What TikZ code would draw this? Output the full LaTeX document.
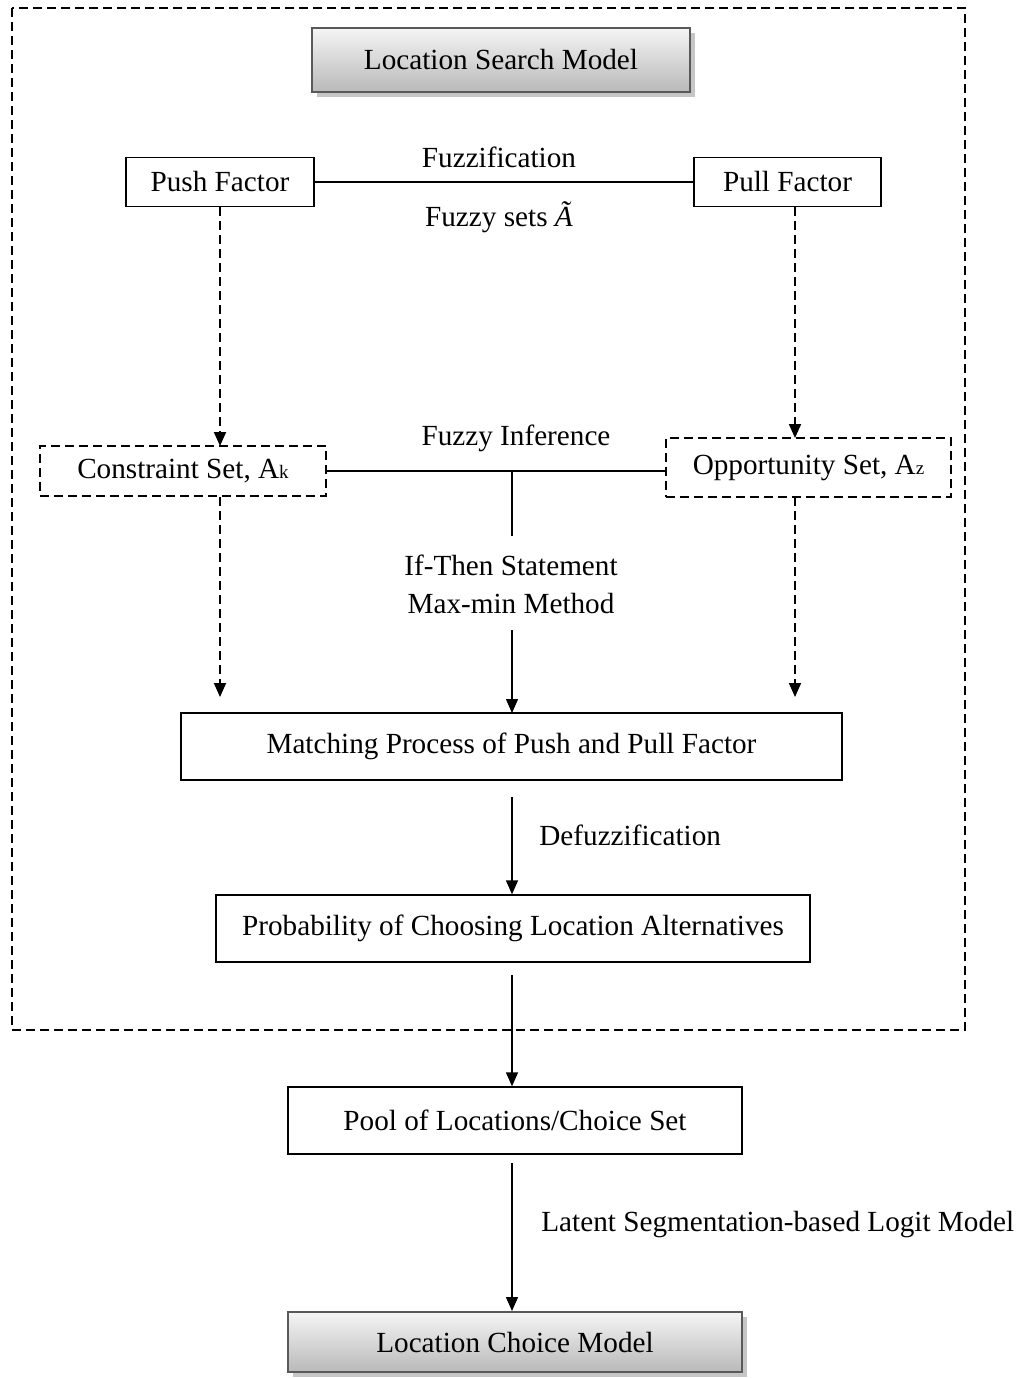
\documentclass[tikz,border=0pt]{standalone}
\usepackage{fontspec}
\setmainfont{Liberation Serif}
\usetikzlibrary{arrows.meta,shadows}
\begin{document}
\begin{tikzpicture}[x=0.5pt,y=-0.5pt,
  every node/.style={font=\fontsize{14.6}{17}\selectfont},
  box/.style={draw,line width=0.7pt,inner sep=0pt},
  dbox/.style={draw,line width=0.9pt,dash pattern=on 4.5pt off 2.5pt,inner sep=0pt},
  gbox/.style={draw=black!65,line width=1pt,inner sep=0pt,top color=gray!8,bottom color=gray!55,
     drop shadow={shadow xshift=2.5pt,shadow yshift=-2.5pt,fill=gray!45,opacity=1}},
  arr/.style={line width=0.7pt,-{Triangle[width=6pt,length=7pt]}},
  darr/.style={line width=0.9pt,dash pattern=on 4.5pt off 2.5pt,-{Triangle[width=6pt,length=7pt]}},
  lbl/.style={inner sep=0pt}]
\useasboundingbox (0,0) rectangle (1020,1378);
% outer dashed frame
\draw[line width=0.9pt,dash pattern=on 4.5pt off 2.5pt] (12,8) rectangle (965,1030);
% title
\node[gbox,minimum width=189pt,minimum height=32pt] (title) at (501,60) {Location Search Model};
% push/pull
\node[box,minimum width=94pt,minimum height=24.5pt] (push) at (220,182) {Push Factor};
\node[box,minimum width=93.5pt,minimum height=24.5pt] (pull) at (787.5,182) {Pull Factor};
\draw[line width=0.7pt] (push) -- (pull);
\node[lbl] (fz) at (499,157) {Fuzzification};
\node[lbl] (fs) at (499,217) {Fuzzy sets \textit{Ã}};
% constraint / opportunity
\node[dbox,minimum width=143pt,minimum height=25pt] (cons) at (183,471) {Constraint Set, A{\fontsize{9.5}{10}\selectfont k}};
\node[dbox,minimum width=142.5pt,minimum height=29.5pt] (opp) at (808.5,467.5) {Opportunity Set, A{\fontsize{9.5}{10}\selectfont z}};
\coordinate (cs) at (220,207);
\coordinate (ce) at (220,446);
\draw[darr] (cs) -- (ce);
\coordinate (ps) at (795,207);
\coordinate (pe) at (795,438);
\draw[darr] (ps) -- (pe);
\coordinate (cr) at (326,471);
\coordinate (ol) at (666,471);
\draw[line width=0.7pt] (cr) -- (ol);
\node[lbl] (fi) at (516,438) {Fuzzy Inference};
\coordinate (mid) at (512,471);
\coordinate (midb) at (512,536);
\draw[line width=0.7pt] (mid) -- (midb);
\node[lbl] (it) at (511,565) {If-Then Statement};
\node[lbl] (mm) at (511,603) {Max-min Method};
% matching
\node[box,minimum width=330.5pt,minimum height=33.5pt] (match) at (511.5,746.5) {Matching Process of Push and Pull Factor};
\coordinate (a1) at (512,630);
\draw[arr] (a1) -- (512,713);
\coordinate (c1) at (220,497);
\coordinate (c2) at (220,697);
\draw[darr] (c1) -- (c2);
\coordinate (o1) at (795,497);
\coordinate (o2) at (795,697);
\draw[darr] (o1) -- (o2);
% probability
\node[box,minimum width=297pt,minimum height=33.5pt] (prob) at (513,928.5) {Probability of Choosing Location Alternatives};
\coordinate (m1) at (512,797);
\draw[arr] (m1) -- (prob.north -| m1);
\node[lbl,anchor=west] (df) at (539,835) {Defuzzification};
% pool
\node[box,minimum width=227pt,minimum height=33.5pt] (pool) at (515,1120.5) {Pool of Locations/Choice Set};
\coordinate (p1) at (512,975);
\draw[arr] (p1) -- (pool.north -| p1);
% final
\node[gbox,minimum width=227pt,minimum height=30pt] (final) at (515,1342) {Location Choice Model};
\coordinate (q1) at (512,1163);
\draw[arr] (q1) -- (final.north -| q1);
\node[lbl,anchor=west] (lsl) at (541,1225) {Latent Segmentation-based Logit Model};
\end{tikzpicture}
\end{document}
